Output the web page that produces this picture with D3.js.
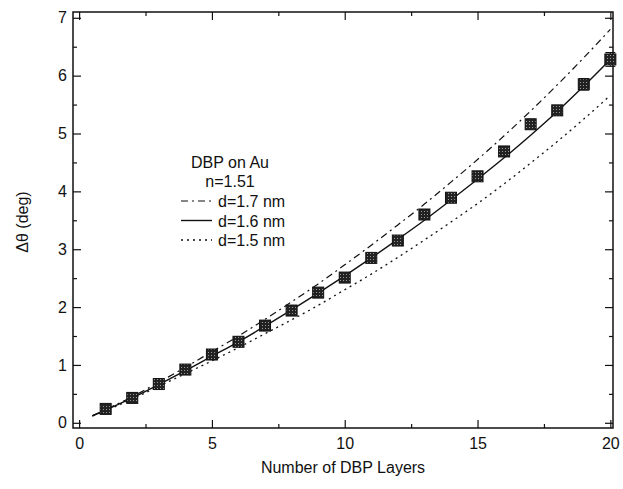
<!DOCTYPE html>
<html><head><meta charset="utf-8">
<script src="https://cdn.jsdelivr.net/npm/d3@7"></script>
<style>body{margin:0;background:#fff}text{font-family:"Liberation Sans",Arial,sans-serif;fill:#111}</style>
</head><body><svg id="c" width="623" height="489"></svg>
<script>
const layers=[1,2,3,4,5,6,7,8,9,10,11,12,13,14,15,16,17,18,19,20];
const measured=[0.24,0.43,0.67,0.92,1.18,1.40,1.68,1.94,2.25,2.51,2.85,3.15,3.60,3.89,4.26,4.69,5.16,5.40,5.85,6.28];
const errs=[0.02,0.02,0.02,0.02,0.03,0.03,0.03,0.03,0.03,0.03,0.03,0.04,0.04,0.04,0.05,0.05,0.06,0.08,0.1,0.12];
const curveX=[0.5,1,2,3,4,5,6,7,8,9,10,11,12,13,14,15,16,17,18,19,20];
const d16=[0.12,0.22,0.43,0.66,0.90,1.15,1.40,1.67,1.95,2.24,2.54,2.85,3.17,3.50,3.85,4.21,4.58,4.97,5.38,5.82,6.28];
const d17=[0.12,0.23,0.45,0.70,0.96,1.23,1.50,1.79,2.09,2.40,2.73,3.07,3.42,3.78,4.16,4.55,4.96,5.39,5.84,6.31,6.80];
const d15=[0.12,0.21,0.41,0.63,0.85,1.07,1.30,1.54,1.78,2.03,2.30,2.57,2.86,3.16,3.47,3.79,4.13,4.49,4.86,5.25,5.66];
const xTicks=[0,5,10,15,20], yTicks=[0,1,2,3,4,5,6,7];
const legendLabels=["d=1.7 nm","d=1.6 nm","d=1.5 nm"];

const svg=d3.select("#c");
const L=73,R=613,T=12,B=428;
const x=d3.scaleLinear().domain([-0.23,20.1]).range([L,R]);
const y=d3.scaleLinear().domain([-0.09,7.1]).range([B,T]);

// pattern for markers
const defs=svg.append("defs");
const pat=defs.append("pattern").attr("id","dots").attr("width",3).attr("height",3).attr("patternUnits","userSpaceOnUse");
pat.append("rect").attr("width",3).attr("height",3).attr("fill","#222");
pat.append("rect").attr("x",1).attr("y",1).attr("width",1).attr("height",1).attr("fill","#999");

// axes with inner ticks
const g=svg.append("g");
function styl(sel){sel.select(".domain").remove();sel.selectAll("line").attr("stroke","#111").attr("stroke-width",1.2);sel.selectAll("text").attr("font-size",16).attr("fill","#111");}
g.append("g").attr("transform",`translate(0,${B})`).call(d3.axisBottom(x).tickValues(xTicks).tickSizeInner(-8).tickSizeOuter(0).tickPadding(10).tickFormat(d3.format("d"))).call(styl);
g.append("g").attr("transform",`translate(0,${B})`).call(d3.axisBottom(x).tickValues([2.5,7.5,12.5,17.5]).tickSizeInner(-4).tickSizeOuter(0).tickFormat("")).call(styl);
g.append("g").attr("transform",`translate(0,${T})`).call(d3.axisTop(x).tickValues(xTicks).tickSizeInner(-8).tickSizeOuter(0).tickFormat("")).call(styl);
g.append("g").attr("transform",`translate(0,${T})`).call(d3.axisTop(x).tickValues([2.5,7.5,12.5,17.5]).tickSizeInner(-4).tickSizeOuter(0).tickFormat("")).call(styl);
g.append("g").attr("transform",`translate(${L},0)`).call(d3.axisLeft(y).tickValues(yTicks).tickSizeInner(-8).tickSizeOuter(0).tickPadding(6).tickFormat(d3.format("d"))).call(styl);
g.append("g").attr("transform",`translate(${L},0)`).call(d3.axisLeft(y).tickValues(d3.range(0.5,7,1)).tickSizeInner(-4).tickSizeOuter(0).tickFormat("")).call(styl);
g.append("g").attr("transform",`translate(${R},0)`).call(d3.axisRight(y).tickValues(yTicks).tickSizeInner(-8).tickSizeOuter(0).tickFormat("")).call(styl);
g.append("g").attr("transform",`translate(${R},0)`).call(d3.axisRight(y).tickValues(d3.range(0.5,7,1)).tickSizeInner(-4).tickSizeOuter(0).tickFormat("")).call(styl);
svg.append("rect").attr("x",L).attr("y",T).attr("width",R-L).attr("height",B-T).attr("fill","none").attr("stroke","#111").attr("stroke-width",1.5);

// curves
const line=d3.line().x((d,i)=>x(curveX[i])).y(d=>y(d)).curve(d3.curveMonotoneX);
const styles=[{data:d17,dash:"7,4,2,4",w:1.2},{data:d16,dash:null,w:1.4},{data:d15,dash:"2,4",w:1.3}];
styles.forEach(s=>{svg.append("path").attr("d",line(s.data)).attr("fill","none").attr("stroke","#111").attr("stroke-width",s.w).attr("stroke-dasharray",s.dash);});

// error bars
const eb=svg.append("g").attr("stroke","#111").attr("stroke-width",1);
layers.forEach((l,i)=>{
  const e=errs[i];
  eb.append("line").attr("x1",x(l)).attr("x2",x(l)).attr("y1",y(measured[i]-e)-0).attr("y2",y(measured[i]+e));
  [measured[i]-e,measured[i]+e].forEach(v=>eb.append("line").attr("x1",x(l)-5).attr("x2",x(l)+5).attr("y1",y(v)).attr("y2",y(v)));
});
// markers
svg.append("g").selectAll("rect").data(layers).join("rect")
  .attr("x",d=>x(d)-5.5).attr("y",(d,i)=>y(measured[i])-5.5).attr("width",11).attr("height",11)
  .attr("fill","url(#dots)").attr("stroke","#111").attr("stroke-width",1);

// legend
const lg=svg.append("g");
lg.append("text").attr("x",230).attr("y",168).attr("text-anchor","middle").attr("font-size",16).text("DBP on Au");
lg.append("text").attr("x",230).attr("y",187).attr("text-anchor","middle").attr("font-size",16).text("n=1.51");
legendLabels.forEach((t,i)=>{
  const yy=201+i*19.5;
  lg.append("line").attr("x1",181).attr("x2",212).attr("y1",yy).attr("y2",yy).attr("stroke","#111").attr("stroke-width",styles[i].w).attr("stroke-dasharray",styles[i].dash);
  lg.append("text").attr("x",218).attr("y",yy+6).attr("font-size",16).text(t);
});

// axis titles
svg.append("text").attr("x",343).attr("y",473).attr("text-anchor","middle").attr("font-size",16).text("Number of DBP Layers");
svg.append("text").attr("transform","translate(28,222) rotate(-90)").attr("text-anchor","middle").attr("font-size",16).text("Δθ (deg)");
</script></body></html>
